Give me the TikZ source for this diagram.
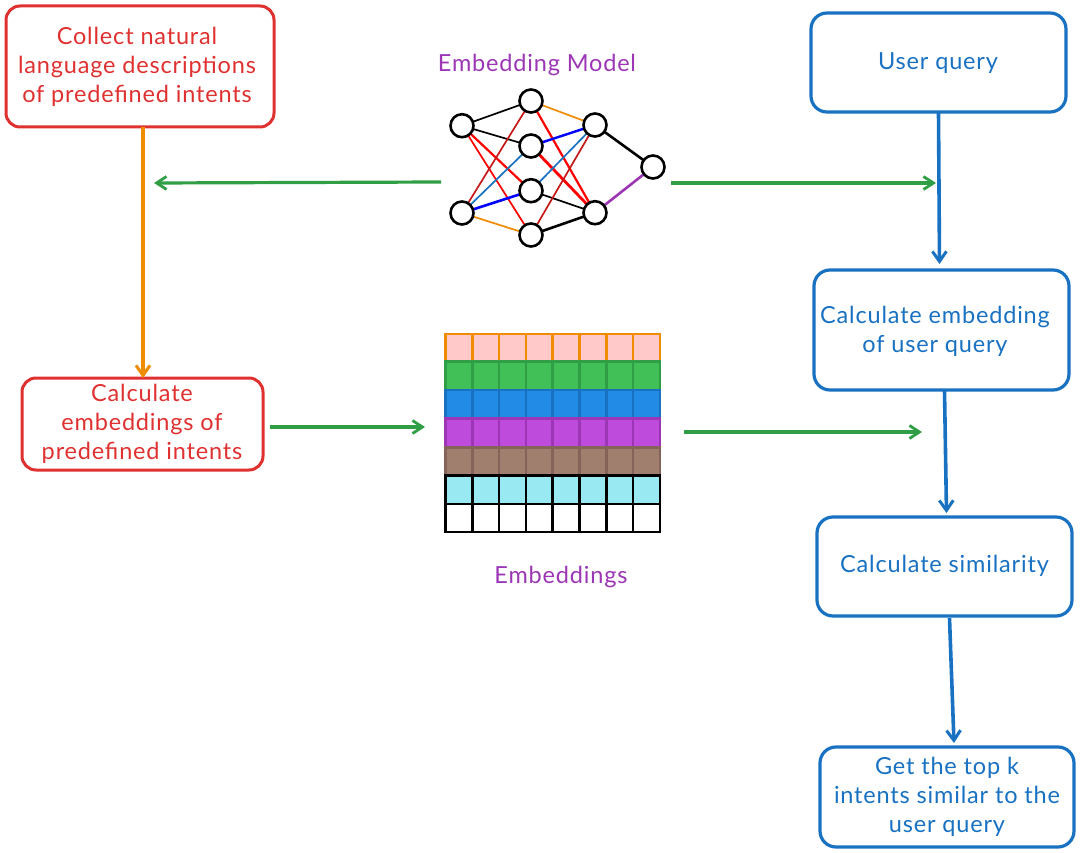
\documentclass[tikz,border=0pt]{standalone}
\usepackage{fontspec}
\setmainfont[LetterSpace=3.5]{Lato}
\usetikzlibrary{arrows.meta,calc}
\definecolor{cred}{HTML}{E03131}
\definecolor{cblue}{HTML}{1971C2}
\definecolor{cgreen}{HTML}{2F9E44}
\definecolor{corange}{HTML}{F08C00}
\definecolor{cpurple}{HTML}{9C36B5}
\definecolor{fpink}{HTML}{FFC9C9}
\definecolor{fgreen}{HTML}{40C057}
\definecolor{fblue}{HTML}{228BE6}
\definecolor{fpurple}{HTML}{BE4BDB}
\definecolor{fbrown}{HTML}{A17F6F}
\definecolor{fcyan}{HTML}{99E9F2}
\definecolor{sbrown}{HTML}{846358}
\tikzset{
  x=1pt,y=-1pt,
  txt/.style={font=\fontsize{23.5}{29}\selectfont,align=center,inner sep=0pt},
  redbox/.style={draw=cred,line width=3pt,rounded corners=14pt,outer sep=0pt,inner sep=0pt,anchor=north west},
  bluebox/.style={draw=cblue,line width=3.2pt,rounded corners=16pt,outer sep=0pt,inner sep=0pt,anchor=north west},
  label/.style={txt,text=cpurple},
  neuron/.style={circle,draw=black,line width=2.6pt,fill=white,minimum size=23pt,inner sep=0pt},
  flow/.style={line width=3.6pt,-{Straight Barb[length=10pt,width=14pt,line width=3pt]}},
  gflow/.style={cgreen,line width=3.2pt,-{Straight Barb[length=10pt,width=13pt,line width=2.8pt]}},
  edge/.style={line width=1.7pt},
}
\begin{document}
\begin{tikzpicture}
\useasboundingbox (0,0) rectangle (1080,853);
% boxes
\node[redbox,minimum width=268pt,minimum height=121pt] (collect) at (6,6) {};
\node[txt,text=cred] (collecttxt) at (137,67) {Collect natural\\language descriptions\\of predefined intents};
\node[redbox,minimum width=241pt,minimum height=92pt] (calc) at (22,378) {};
\node[txt,text=cred] (calctxt) at (142,424) {Calculate\\embeddings of\\predefined intents};
\node[bluebox,minimum width=255pt,minimum height=99pt] (user) at (811,13) {};
\node[txt,text=cblue] (usertxt) at (938,63) {User query};
\node[bluebox,minimum width=255pt,minimum height=120pt] (qemb) at (814,270) {};
\node[txt,text=cblue] (qembtxt) at (935,331) {Calculate embedding\\of user query};
\node[bluebox,minimum width=255pt,minimum height=99pt] (sim) at (817,517) {};
\node[txt,text=cblue] (simtxt) at (944.5,566) {Calculate similarity};
\node[bluebox,minimum width=254pt,minimum height=100pt] (top) at (820,747) {};
\node[txt,text=cblue] (toptxt) at (947,797) {Get the top k\\intents similar to the\\user query};
\node[label] (mlabel) at (537,65) {Embedding Model};
\node[label] (elabel) at (561,577) {Embeddings};
% network edges
\coordinate (n11) at (462,125.7); \coordinate (n12) at (462,213);
\coordinate (n21) at (531,101); \coordinate (n22) at (531,146);
\coordinate (n23) at (531,190.7); \coordinate (n24) at (531,235);
\coordinate (n31) at (595,125); \coordinate (n32) at (595,212.7);
\coordinate (n41) at (653,167);
\draw[edge,black] (n11)--(n21);
\draw[edge,black] (n11)--(n22);
\draw[edge,red,line width=2.2pt] (n11)--(n23);
\draw[edge,red] (n11)--(n24);
\draw[edge,red!75!black!90] (n12)--(n21);
\draw[edge,cblue] (n12)--(n22);
\draw[edge,blue,line width=2.6pt] (n12)--(n23);
\draw[edge,corange] (n12)--(n24);
\draw[edge,corange] (n21)--(n31);
\draw[edge,red,line width=2.2pt] (n21)--(n32);
\draw[edge,blue,line width=2.4pt] (n22)--(n31);
\draw[edge,red,line width=2.8pt] (n22)--(n32);
\draw[edge,cblue] (n23)--(n31);
\draw[edge,black] (n23)--(n32);
\draw[edge,red!75!black!90] (n24)--(n31);
\draw[edge,black,line width=2.6pt] (n24)--(n32);
\draw[edge,black,line width=2.6pt] (n31)--(n41);
\draw[edge,cpurple,line width=2.6pt] (n32)--(n41);
% neurons
\foreach \n in {n11,n12,n21,n22,n23,n24,n31,n32,n41}
  \node[neuron] (c\n) at (\n) {};
% grid
\foreach \yy/\yb/\fc/\dc in {334/361.8/fpink/corange,361.8/390/fgreen/cgreen,390/418.3/fblue/cblue,418.3/447.3/fpurple/cpurple,447.3/475.7/fbrown/sbrown,475.7/504/fcyan/black,504/532/white/black}{
  \foreach \i in {0,...,7}{
    \draw[fill=\fc,draw=\dc,line width=2.6pt] ({445.5+\i*26.8},\yy) rectangle ({445.5+(\i+1)*26.8},\yb);
  }
}
% connectors
\coordinate (gl1) at (441,182);
\coordinate (gl2) at (154,183);
\coordinate (gr1) at (671,183);
\coordinate (gr2) at (936,183);
\coordinate (gm1) at (270,427);
\coordinate (gm2) at (425,427);
\coordinate (gn1) at (684,432);
\coordinate (gn2) at (922,432);
\draw[gflow] (gl1)--(gl2);
\draw[gflow] (gr1)--(gr2);
\draw[gflow] (gm1)--(gm2);
\draw[gflow] (gn1)--(gn2);
\draw[flow,corange,line width=4.2pt] (collect.south -| 143,0)--(calc.north -| 143,0);
\draw[flow,cblue] ($(user.south)+(0,0)$)--($(qemb.north)+(-2,-6)$);
\draw[flow,cblue] ($(qemb.south)+(3,0)$)--($(sim.north)+(2,-4)$);
\draw[flow,cblue] ($(sim.south)+(5,2)$)--($(top.north)+(7,-4)$);
\end{tikzpicture}
\end{document}
